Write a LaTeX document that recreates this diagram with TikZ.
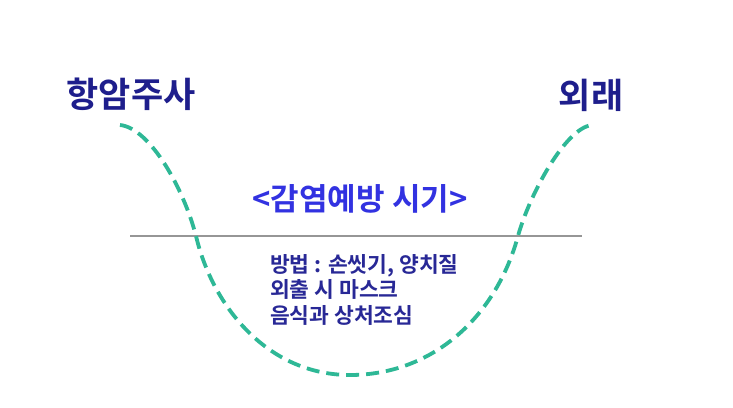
\documentclass[tikz,border=0pt]{standalone}
\usepackage{fontspec}
\newfontfamily\krb{Noto Sans CJK KR Bold}
\definecolor{curveteal}{RGB}{46,184,150}
\definecolor{navy}{RGB}{30,30,140}
\definecolor{brightblue}{RGB}{50,50,225}
\definecolor{bodyblue}{RGB}{40,40,150}
\definecolor{linegray}{RGB}{150,150,150}
\tikzset{
  curvestyle/.style={draw=curveteal, line width=3.8pt, dash pattern=on 13pt off 7pt},
  endlabel/.style={font=\krb\fontsize{35}{38}\selectfont, text=navy, inner sep=0pt},
  periodlabel/.style={font=\krb\fontsize{31}{34}\selectfont, text=brightblue, inner sep=0pt},
  bodytext/.style={font=\krb\fontsize{21.5}{25.5}\selectfont, text=bodyblue, inner sep=0pt, align=left, anchor=north west},
  divider/.style={draw=linegray, line width=1.5pt}
}
\begin{document}
\begin{tikzpicture}[x=1pt,y=-1pt]
\useasboundingbox (0,0) rectangle (733,407);
\fill[white] (0,0) rectangle (733,407);
\coordinate (dl) at (130,236);
\coordinate (dr) at (582,236);
\draw[divider] (dl) -- (dr);
\draw[curvestyle] (120,125) .. controls (150,128) and (185,190) .. (197,240)
  .. controls (215,310) and (270,375) .. (350,375)
  .. controls (430,375) and (495,320) .. (518,236)
  .. controls (529,196) and (565,128) .. (592,125);
\node[endlabel] (left) at (131,94) {항암주사};
\node[endlabel] (right) at (591,95) {외래};
\node[periodlabel] (period) at (360,199) {<감염예방 시기>};
\node[bodytext] (body) at (270,254) {방법 : 손씻기, 양치질\\외출 시 마스크\\음식과 상처조심};
\end{tikzpicture}
\end{document}
